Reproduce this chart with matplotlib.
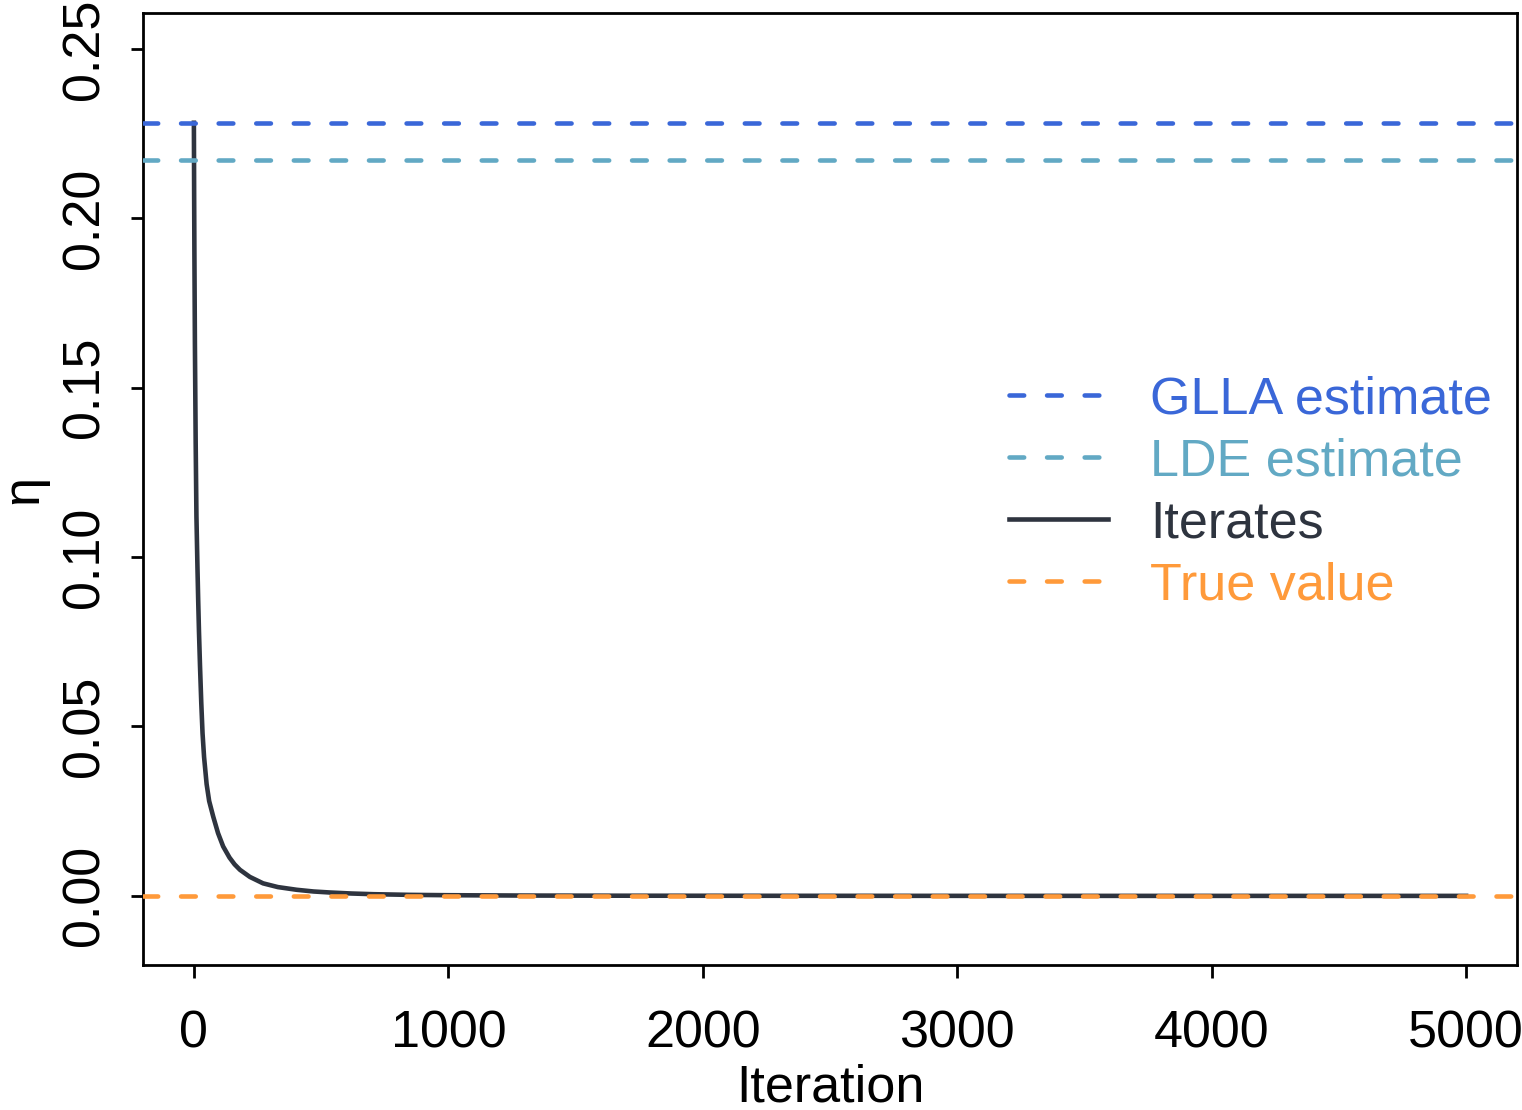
import numpy as np
import matplotlib
matplotlib.use("Agg")
import matplotlib.pyplot as plt

plt.rcParams['font.family'] = ['Liberation Sans', 'DejaVu Sans']

# values
ITER = [0, 1, 2, 4, 7, 10, 14, 17, 20, 24, 29, 34, 40, 50, 60, 76, 95, 115,
        140, 160, 181, 220, 272, 330, 404, 470, 535, 620, 705, 850, 1000, 1300,
        1700, 2200, 3000, 4000, 5000]
ETA = [0.2282, 0.207, 0.190, 0.163, 0.134, 0.112, 0.097, 0.087, 0.078, 0.068,
       0.057, 0.048, 0.041, 0.033, 0.028, 0.0234, 0.0185, 0.0146, 0.0113,
       0.0093, 0.0077, 0.0056, 0.0037, 0.0026, 0.0018, 0.0013, 0.0010, 0.0007,
       0.0005, 0.0003, 0.0002, 0.0001, 0.00005, 0.00003, 0.00001, 0.0, 0.0]

GLLA_EST = 0.2282
LDE_EST = 0.2172
TRUE_VAL = 0.0

X_TICKS = [0, 1000, 2000, 3000, 4000, 5000]
Y_TICKS = [0.00, 0.05, 0.10, 0.15, 0.20, 0.25]

C_GLLA = "#3A67D8"
C_LDE = "#62A9C4"
C_ITER = "#2E343F"
C_TRUE = "#FF9A3A"

FS = 37.5
LW = 3.3
DASH = (3.2, 5.0)

fig = plt.figure(figsize=(15.22, 11.10), dpi=100)
ax = fig.add_axes([143 / 1522, 1 - 965 / 1110, 1374 / 1522, 952 / 1110])

ax.plot(ITER, ETA, color=C_ITER, lw=LW, label="Iterates", zorder=2,
        solid_joinstyle='round')
ax.axhline(GLLA_EST, color=C_GLLA, lw=LW, dashes=DASH, dash_capstyle='round',
           label="GLLA estimate", zorder=3)
ax.axhline(LDE_EST, color=C_LDE, lw=LW, dashes=DASH, dash_capstyle='round',
           label="LDE estimate", zorder=3)
ax.axhline(TRUE_VAL, color=C_TRUE, lw=LW, dashes=DASH, dash_capstyle='round',
           label="True value", zorder=3)

ax.set_xlim(-200, 5200)
ax.set_ylim(-0.0204, 0.2606)
ax.set_xticks(X_TICKS)
ax.set_xticklabels([str(t) for t in X_TICKS])
ax.set_yticks(Y_TICKS)
ax.set_yticklabels([f"{t:.2f}" for t in Y_TICKS], rotation=90, va='center')

for s in ax.spines.values():
    s.set_linewidth(2.0)
ax.tick_params(axis='both', length=9, width=2.0, labelsize=FS)
ax.tick_params(axis='x', pad=23)
ax.tick_params(axis='y', pad=15)

ax.set_xlabel("Iteration", fontsize=FS, labelpad=4)
ax.set_ylabel("η", fontsize=FS, labelpad=9)

h, l = ax.get_legend_handles_labels()
order = [1, 2, 0, 3]
leg = ax.legend([h[i] for i in order], [l[i] for i in order],
                loc='center left', bbox_to_anchor=(0.63, 0.496),
                frameon=False, fontsize=FS, handlelength=1.9,
                handletextpad=0.82, labelspacing=0.25, borderpad=0,
                borderaxespad=0,
                labelcolor=[C_GLLA, C_LDE, C_ITER, C_TRUE])

fig.savefig("out.png", dpi=100)
